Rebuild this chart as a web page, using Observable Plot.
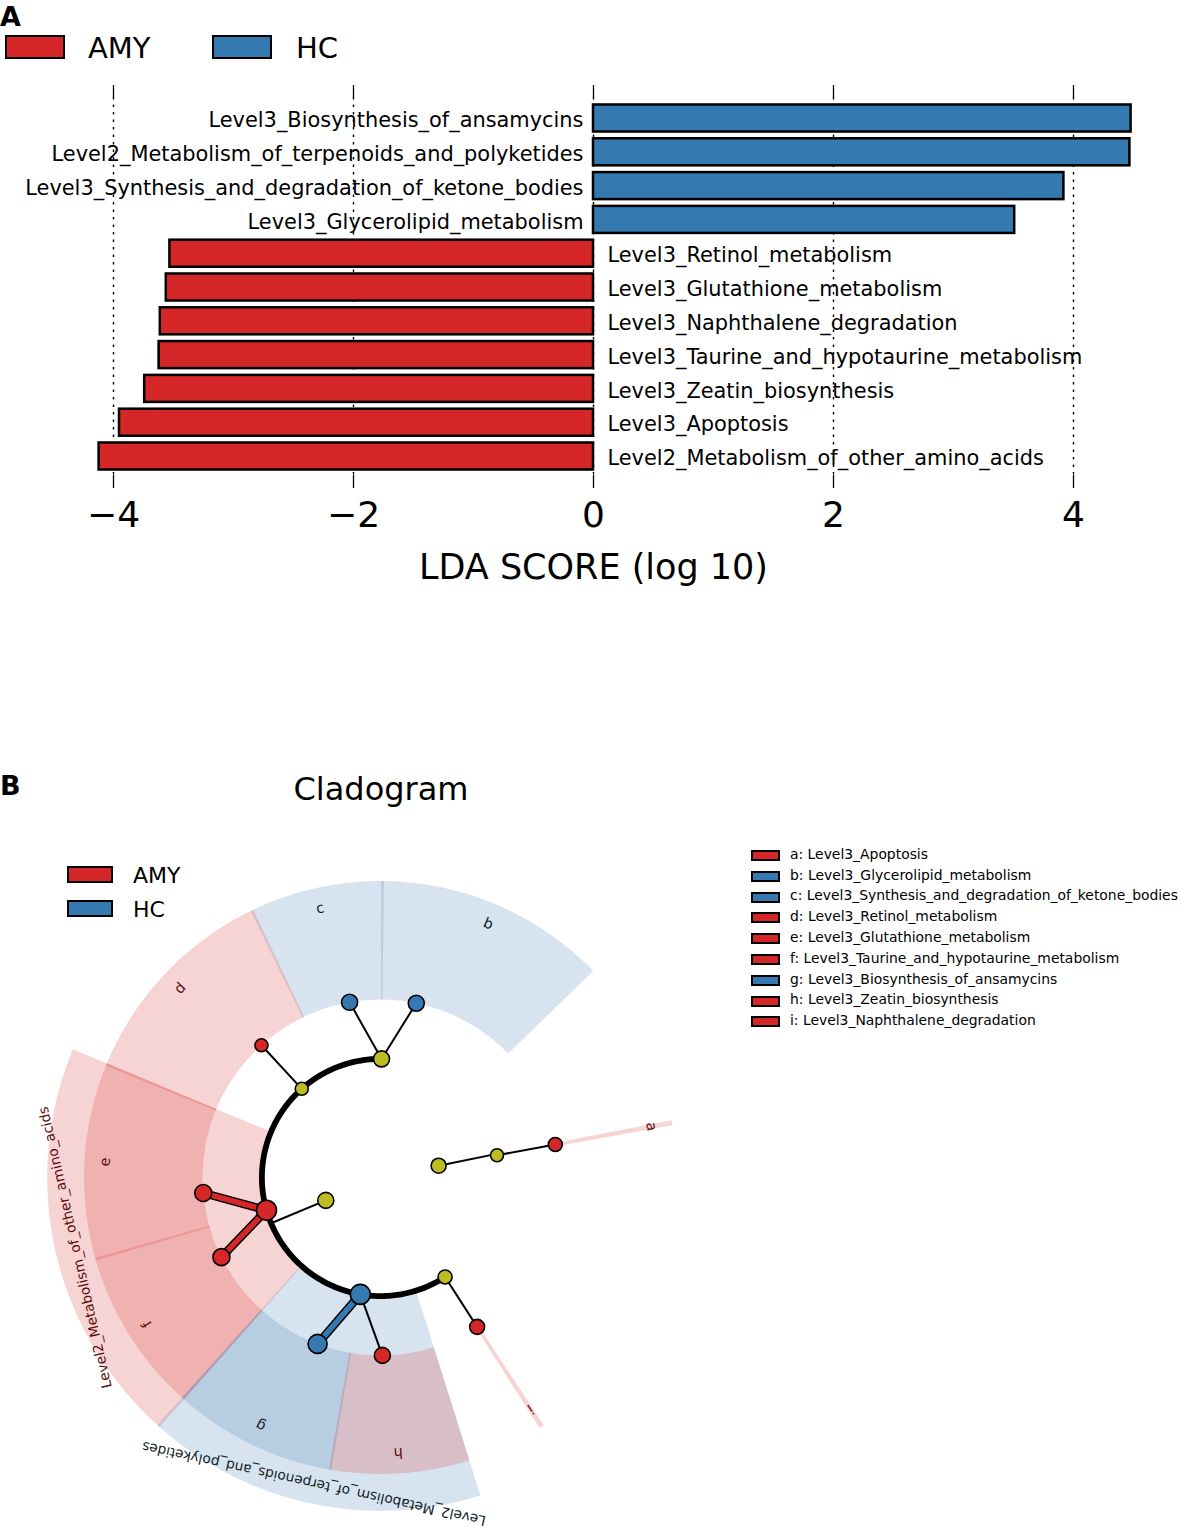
<!DOCTYPE html>
<html><head><meta charset="utf-8">
<script src="https://cdn.jsdelivr.net/npm/d3@7"></script>
<script src="https://cdn.jsdelivr.net/npm/@observablehq/plot@0.6"></script>
<style>
body{margin:0;background:#fff;font-family:"DejaVu Sans",sans-serif;color:#000;}
#fig{position:relative;width:1181px;height:1529px;overflow:hidden;background:#fff;}
.abs{position:absolute;white-space:nowrap;line-height:1;}
.sw{position:absolute;box-sizing:border-box;border-style:solid;border-color:#000;}
svg{position:absolute;left:0;}
</style></head><body><div id="fig"></div>
<script>
// ---------- DATA ----------
const groups = ["AMY", "HC"];
const groupColors = ["#d62728", "#3579b1"];
const nodeColor = "#bcbd22";

const features = [
  "Level3_Biosynthesis_of_ansamycins",
  "Level2_Metabolism_of_terpenoids_and_polyketides",
  "Level3_Synthesis_and_degradation_of_ketone_bodies",
  "Level3_Glycerolipid_metabolism",
  "Level3_Retinol_metabolism",
  "Level3_Glutathione_metabolism",
  "Level3_Naphthalene_degradation",
  "Level3_Taurine_and_hypotaurine_metabolism",
  "Level3_Zeatin_biosynthesis",
  "Level3_Apoptosis",
  "Level2_Metabolism_of_other_amino_acids"
];
const ldaScores = [4.48, 4.47, 3.92, 3.51, -3.53, -3.56, -3.61, -3.62, -3.74, -3.95, -4.12];
const featureGroups = ["HC","HC","HC","HC","AMY","AMY","AMY","AMY","AMY","AMY","AMY"];
const xTicks = [-4, -2, 0, 2, 4];
const xTickLabels = ["\u22124", "\u22122", "0", "2", "4"];
const xLabel = "LDA SCORE (log 10)";

// cladogram tree
const cladeIds = ["root","Cellular_Processes","Cell_growth_and_death","Apoptosis",
  "Metabolism","Lipid_metabolism","Glycerolipid_metabolism","Synthesis_and_degradation_of_ketone_bodies",
  "Metabolism_of_cofactors_and_vitamins","Retinol_metabolism",
  "Metabolism_of_other_amino_acids","Glutathione_metabolism","Taurine_and_hypotaurine_metabolism",
  "Metabolism_of_terpenoids_and_polyketides","Biosynthesis_of_ansamycins","Zeatin_biosynthesis",
  "Xenobiotics_biodegradation_and_metabolism","Naphthalene_degradation"];
const cladeParents = [null,"root","Cellular_Processes","Cell_growth_and_death",
  "root","Metabolism","Lipid_metabolism","Lipid_metabolism",
  "Metabolism","Metabolism_of_cofactors_and_vitamins",
  "Metabolism","Metabolism_of_other_amino_acids","Metabolism_of_other_amino_acids",
  "Metabolism","Metabolism_of_terpenoids_and_polyketides","Metabolism_of_terpenoids_and_polyketides",
  "Metabolism","Xenobiotics_biodegradation_and_metabolism"];
const cladeLevels = [0,1,2,3, 1,2,3,3, 2,3, 2,3,3, 2,3,3, 2,3];
const cladeAngles = [0,11.5,10.8,10.7, 202.7,89.5,78.4,100, 131.6,132, 196,185,206.6, 260.2,249.3,270.6, 303,302.9];
const cladeClasses = ["none","none","none","AMY", "none","none","HC","HC", "none","AMY", "AMY","AMY","AMY", "HC","HC","AMY", "none","AMY"];
const cladeAbundance = [1.5,7.5,6.5,7, 8,8,8,8, 6.5,6.5, 10,8.5,8.5, 10,9.5,8, 7,7.5];

// highlighted clades (angular spans in degrees)
const sectorIds = ["Apoptosis","Glycerolipid_metabolism","Synthesis_and_degradation_of_ketone_bodies",
  "Retinol_metabolism","Metabolism_of_other_amino_acids","Glutathione_metabolism",
  "Taurine_and_hypotaurine_metabolism","Metabolism_of_terpenoids_and_polyketides",
  "Biosynthesis_of_ansamycins","Zeatin_biosynthesis","Naphthalene_degradation"];
const sectorStart = [10.4, 44.4, 89.6, 115.7, 157.6, 157.6, 196.0, 228.2, 228.2, 260.2, 302.65];
const sectorEnd   = [10.9, 89.6, 115.7, 157.6, 228.2, 196.0, 228.2, 287.2, 260.2, 287.2, 303.15];
const sectorLetters = ["a","b","c","d",null,"e","f",null,"g","h","i"];

const legendLetters = ["a","b","c","d","e","f","g","h","i"];
const legendNames = ["Level3_Apoptosis","Level3_Glycerolipid_metabolism","Level3_Synthesis_and_degradation_of_ketone_bodies",
  "Level3_Retinol_metabolism","Level3_Glutathione_metabolism","Level3_Taurine_and_hypotaurine_metabolism",
  "Level3_Biosynthesis_of_ansamycins","Level3_Zeatin_biosynthesis","Level3_Naphthalene_degradation"];
const legendGroups = ["AMY","HC","HC","AMY","AMY","AMY","HC","AMY","AMY"];

// ---------- HELPERS ----------
const fig = document.getElementById("fig");
const colorOf = g => groupColors[groups.indexOf(g)];
function addText(txt, left, top, size, extra = {}) {
  const d = document.createElement("div");
  d.className = "abs"; d.textContent = txt;
  Object.assign(d.style, {left: left + "px", top: top + "px", fontSize: size + "px"}, extra);
  fig.appendChild(d); return d;
}
function addSwatch(left, top, w, h, color, bw) {
  const d = document.createElement("div");
  d.className = "sw";
  Object.assign(d.style, {left: left + "px", top: top + "px", width: w + "px", height: h + "px", background: color, borderWidth: bw + "px"});
  fig.appendChild(d); return d;
}

// ---------- PANEL A ----------
const rows = features.map((f, i) => ({feature: f, score: ldaScores[i], group: featureGroups[i]}));
const plotA = Plot.plot({
  width: 1181, height: 600,
  marginTop: 97, marginBottom: 125, marginLeft: 5, marginRight: 0,
  style: {fontFamily: "DejaVu Sans", fontSize: "20px", background: "transparent", color: "#000"},
  x: {domain: [-4, 4], range: [113, 1073]},
  y: {domain: features, range: [101.1, 472.9], paddingInner: 0.2, paddingOuter: 0.1, round: false, axis: null},
  color: {domain: groups, range: groupColors},
  marks: [
    Plot.ruleX(xTicks, {stroke: "#000", strokeWidth: 1.4, strokeDasharray: "2.5,5"}),
    Plot.barX(rows, {x1: 0, x2: "score", y: "feature", fill: "group", stroke: "#000", strokeWidth: 2.5}),
    Plot.text(rows.filter(d => d.score > 0), {x: 0, y: "feature", text: "feature", textAnchor: "end", dx: -10, dy: 2, fontSize: 20.9}),
    Plot.text(rows.filter(d => d.score < 0), {x: 0, y: "feature", text: "feature", textAnchor: "start", dx: 14, dy: 2, fontSize: 20.9}),
    Plot.axisX(xTicks, {anchor: "bottom", tickSize: 13, tickPadding: 13, fontSize: 36, label: null, strokeWidth: 1.3,
      tickFormat: d => xTickLabels[xTicks.indexOf(d)]}),
    Plot.axisX(xTicks, {anchor: "top", tickSize: 13, tickFormat: () => "", label: null, strokeWidth: 1.3}),
    Plot.text([xLabel], {frameAnchor: "bottom", dy: 103, fontSize: 35})
  ]
});
plotA.style.top = "0px";
fig.appendChild(plotA);

// ---------- PANEL B ----------
const U = 59.3, CX = 380, CY = 347;
const rad = a => a * Math.PI / 180;
const polar = (r, a) => ({x: r * Math.cos(rad(a)), y: r * Math.sin(rad(a))});

const clades = cladeIds.map((id, i) => ({id, parent: cladeParents[i], level: cladeLevels[i], angle: cladeAngles[i],
  cls: cladeClasses[i], size: cladeAbundance[i], ...polar(cladeLevels[i], cladeAngles[i])}));
const byId = new Map(clades.map(d => [d.id, d]));

const thinLinks = [], thickLinks = [], arcPts = [];
for (const p of clades) {
  const kids = clades.filter(c => c.parent === p.id);
  if (!kids.length || p.level === 0) continue;
  if (p.level === 1) {
    const q = polar(p.level + 1, p.angle);
    thinLinks.push({x1: p.x, y1: p.y, x2: q.x, y2: q.y});
    const a0 = Math.min(...kids.map(k => k.angle)), a1 = Math.max(...kids.map(k => k.angle));
    const n = Math.max(2, Math.ceil(a1 - a0) + 1);
    for (let k = 0; k < n; k++) arcPts.push({z: p.id, ...polar(p.level + 1, a0 + (a1 - a0) * k / (n - 1))});
  } else {
    for (const k of kids) {
      const link = {x1: p.x, y1: p.y, x2: k.x, y2: k.y, cls: k.cls};
      (p.cls !== "none" && p.cls === k.cls ? thickLinks : thinLinks).push(link);
    }
  }
}

const sectors = sectorIds.map((id, i) => {
  const c = byId.get(id);
  return {id, cls: c.cls, level: c.level, a0: sectorStart[i], a1: sectorEnd[i], letter: sectorLetters[i], mid: (sectorStart[i] + sectorEnd[i]) / 2};
});
const sectorPts = sectors.flatMap(s => {
  const r0 = s.level === 2 ? 1.97 : 3, r1 = s.level === 2 ? 5.62 : 5;
  const a0 = s.a0 - 0.25, a1 = s.a1 + 0.25;
  const n = Math.max(2, Math.ceil((a1 - a0) / 0.5) + 1);
  const pts = [];
  for (let k = 0; k < n; k++) pts.push({id: s.id, cls: s.cls, ...polar(r1, a0 + (a1 - a0) * k / (n - 1))});
  for (let k = n - 1; k >= 0; k--) pts.push({id: s.id, cls: s.cls, ...polar(r0, a0 + (a1 - a0) * k / (n - 1))});
  return pts;
});
const labels = sectors.map(s => {
  const r = s.level === 2 ? 5.28 : 4.65;
  return {...polar(r, s.mid), text: s.level === 2 ? "Level2_" + s.id : s.letter, rot: 90 - s.mid, cls: s.cls, level: s.level};
});
const labelInk = {AMY: "#5e0b10", HC: "#111d26"};
const labelMarks = [];
for (const lv of [2, 3]) for (const g of groups) {
  labelMarks.push(Plot.text(labels.filter(d => d.level === lv && d.cls === g), {
    x: "x", y: "y", text: "text", rotate: "rot", fill: labelInk[g],
    fontSize: lv === 2 ? 13.8 : 14.5, textAnchor: "middle", lineAnchor: "middle"
  }));
}

const plotB = Plot.plot({
  width: 760, height: 699,
  marginTop: 0, marginBottom: 0, marginLeft: 0, marginRight: 0,
  style: {fontFamily: "DejaVu Sans", background: "transparent", color: "#000", overflow: "visible"},
  x: {domain: [-6, 6], range: [CX - 6 * U, CX + 6 * U], axis: null},
  y: {domain: [-6, 6], range: [CY + 6 * U, CY - 6 * U], axis: null},
  color: {domain: ["AMY", "HC", "none"], range: [...groupColors, nodeColor]},
  r: {type: "linear", domain: [0, 10], range: [0, 10]},
  marks: [
    Plot.line(sectorPts, {x: "x", y: "y", z: "id", fill: "cls", fillOpacity: 0.2, stroke: "none"}),
    ...labelMarks,
    Plot.line(arcPts, {x: "x", y: "y", z: "z", stroke: "#000", strokeWidth: 5.8}),
    Plot.link(thinLinks, {x1: "x1", y1: "y1", x2: "x2", y2: "y2", stroke: "#000", strokeWidth: 2}),
    Plot.link(thickLinks, {x1: "x1", y1: "y1", x2: "x2", y2: "y2", stroke: "#000", strokeWidth: 8.5}),
    Plot.link(thickLinks, {x1: "x1", y1: "y1", x2: "x2", y2: "y2", stroke: "cls", strokeWidth: 5.5}),
    Plot.dot(clades.filter(d => d.level > 0), {x: "x", y: "y", r: "size", fill: "cls", stroke: "#000", strokeWidth: 1.6}),
    Plot.dot(clades.filter(d => d.level === 0), {x: "x", y: "y", r: "size", fill: "cls", stroke: "none"})
  ]
});
plotB.style.top = "830px";
fig.appendChild(plotB);

// ---------- TEXT / LEGENDS ----------
addText("A", 0, 3, 27, {fontWeight: "bold"});
addSwatch(5, 35, 60, 24, colorOf("AMY"), 2.5);
addText("AMY", 88, 33.5, 29);
addSwatch(212, 35, 60, 24, colorOf("HC"), 2.5);
addText("HC", 296, 33.5, 29);

addText("B", 0, 772, 27, {fontWeight: "bold"});
addText("Cladogram", 381, 773, 32, {transform: "translateX(-50%)"});
addSwatch(67, 866, 46, 17, colorOf("AMY"), 2.2);
addText("AMY", 133, 864.5, 22);
addSwatch(67, 900, 46, 17, colorOf("HC"), 2.2);
addText("HC", 133, 898.5, 22);

legendLetters.forEach((l, i) => {
  addSwatch(751, 850 + 20.8 * i, 29, 11, colorOf(legendGroups[i]), 2);
  addText(l + ": " + legendNames[i], 790, 847.8 + 20.8 * i, 13.9);
});
</script>
</body></html>
